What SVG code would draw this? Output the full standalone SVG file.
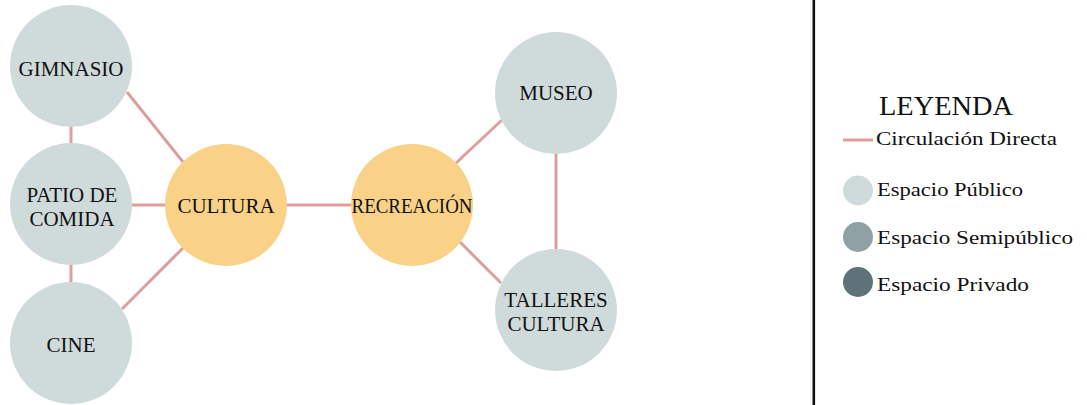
<svg xmlns="http://www.w3.org/2000/svg" width="1087" height="405" viewBox="0 0 1087 405" font-family="Liberation Serif">
<style>
.pub{fill:#CFDBDB}
.core{fill:#F9D187}
.lbl{font-size:21px;fill:#111;text-anchor:middle}
.leg{font-size:19px;fill:#111}
.title{font-size:27px}
#connectors line{stroke:#DF9E9E;stroke-width:3}
</style>
<rect width="1087" height="405" fill="#fff"/>
<g id="connectors">
<line x1="71" y1="126" x2="71" y2="144"/>
<line x1="71" y1="264" x2="71" y2="283"/>
<line x1="127" y1="92" x2="183" y2="162"/>
<line x1="132" y1="205" x2="166" y2="205"/>
<line x1="183" y1="248" x2="122" y2="309"/>
<line x1="286" y1="205" x2="352" y2="205"/>
<line x1="456" y1="163" x2="502" y2="120"/>
<line x1="460" y1="242" x2="501" y2="283"/>
<line x1="556" y1="153" x2="556" y2="249"/>
</g>
<g id="gimnasio"><circle class="pub" cx="71" cy="66" r="61"/><text class="lbl" font-family="Liberation Serif" x="71" y="76">GIMNASIO</text></g>
<g id="patio"><circle class="pub" cx="71" cy="204" r="61"/><text class="lbl" font-family="Liberation Serif" x="72" y="202">PATIO DE</text><text class="lbl" font-family="Liberation Serif" x="72" y="226">COMIDA</text></g>
<g id="cine"><circle class="pub" cx="71" cy="343" r="61"/><text class="lbl" font-family="Liberation Serif" x="71" y="352">CINE</text></g>
<g id="cultura"><circle class="core" cx="226" cy="205" r="61"/><text class="lbl" font-family="Liberation Serif" x="226" y="213">CULTURA</text></g>
<g id="recreacion"><circle class="core" cx="412" cy="205" r="61"/><text class="lbl" font-family="Liberation Serif" x="412" y="213" textLength="121" lengthAdjust="spacingAndGlyphs">RECREACIÓN</text></g>
<g id="museo"><circle class="pub" cx="556" cy="93" r="61"/><text class="lbl" font-family="Liberation Serif" x="556" y="100">MUSEO</text></g>
<g id="talleres"><circle class="pub" cx="556" cy="310" r="61"/><text class="lbl" font-family="Liberation Serif" x="556" y="307">TALLERES</text><text class="lbl" font-family="Liberation Serif" x="556" y="331">CULTURA</text></g>
<g id="legend" font-family="Liberation Serif">
<line x1="813.8" y1="0" x2="813.8" y2="405" stroke="#111" stroke-width="2.6"/>
<text class="leg title" x="879" y="115" textLength="134" lengthAdjust="spacingAndGlyphs">LEYENDA</text>
<line x1="843" y1="140" x2="873" y2="140" stroke="#DF9E9E" stroke-width="3"/>
<text class="leg" x="876" y="145" textLength="181" lengthAdjust="spacingAndGlyphs">Circulación Directa</text>
<circle cx="858" cy="190.5" r="15" fill="#CFDBDB"/>
<text class="leg" x="877" y="196" textLength="146" lengthAdjust="spacingAndGlyphs">Espacio Público</text>
<circle cx="858" cy="237" r="15" fill="#8FA1A4"/>
<text class="leg" x="877" y="244" textLength="196" lengthAdjust="spacingAndGlyphs">Espacio Semipúblico</text>
<circle cx="858" cy="282" r="15" fill="#5D7379"/>
<text class="leg" x="877" y="291" textLength="152" lengthAdjust="spacingAndGlyphs">Espacio Privado</text>
</g>
</svg>
